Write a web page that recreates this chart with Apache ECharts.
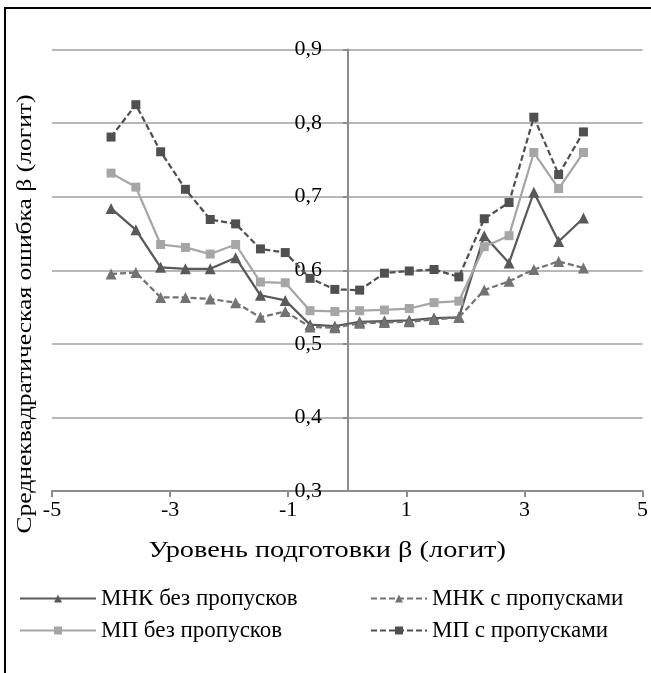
<!DOCTYPE html>
<html><head><meta charset="utf-8">
<script src="https://cdn.jsdelivr.net/npm/echarts@6/dist/echarts.min.js"></script>
<style>
html,body{margin:0;padding:0;background:#fff}
#frame{position:absolute;left:4px;top:7px;width:647px;height:666px;border-left:2px solid #000;border-top:2px solid #000;box-sizing:border-box}
#c{position:absolute;left:0;top:0;width:651px;height:673px}
</style></head><body>
<div id="frame"></div><div id="c"></div>
<script>
const beta = [-4.00, -3.58, -3.16, -2.74, -2.32, -1.89, -1.47, -1.05, -0.63, -0.21, 0.21, 0.63, 1.05, 1.47, 1.89, 2.32, 2.74, 3.16, 3.58, 4.00];
const mnkFull = [0.684, 0.655, 0.604, 0.602, 0.602, 0.617, 0.566, 0.559, 0.526, 0.524, 0.530, 0.531, 0.532, 0.535, 0.536, 0.647, 0.610, 0.706, 0.639, 0.671];
const mnkMiss = [0.595, 0.597, 0.563, 0.563, 0.561, 0.556, 0.536, 0.544, 0.523, 0.522, 0.528, 0.529, 0.530, 0.533, 0.536, 0.573, 0.585, 0.601, 0.612, 0.603];
const mpFull  = [0.732, 0.713, 0.635, 0.631, 0.622, 0.635, 0.584, 0.583, 0.545, 0.544, 0.545, 0.546, 0.548, 0.556, 0.558, 0.632, 0.647, 0.760, 0.711, 0.760];
const mpMiss  = [0.781, 0.825, 0.761, 0.710, 0.669, 0.663, 0.629, 0.624, 0.589, 0.574, 0.573, 0.596, 0.599, 0.601, 0.591, 0.670, 0.692, 0.808, 0.730, 0.788];
const names = ['МНК без пропусков', 'МНК с пропусками', 'МП без пропусков', 'МП с пропусками'];
const xTitle = 'Уровень подготовки β (логит)';
const yTitle = 'Среднеквадратическая ошибка β (логит)';

const FONT = '"Liberation Serif", "Times New Roman", serif';
const pairs = arr => beta.map((x, i) => [x, arr[i]]);

const chart = echarts.init(document.getElementById('c'), null, {renderer: 'canvas'});
function mk(name, data, color, dashed, symbol, size) {
  return {
    name, type: 'line', data: pairs(data), symbol, symbolSize: size,
    itemStyle: {color},
    lineStyle: {color, width: 2.25, type: dashed ? [6, 3] : 'solid'},
    showAllSymbol: true, animation: false
  };
}
chart.setOption({
  animation: false,
  grid: {left: 52, right: 7, top: 49.5, bottom: 182, containLabel: false},
  xAxis: {
    type: 'value', min: -5, max: 5, interval: 2,
    axisLine: {onZero: false, lineStyle: {color: '#8c8c8c', width: 2}},
    axisTick: {show: true, length: 6, lineStyle: {color: '#8c8c8c', width: 2}},
    axisLabel: {color: '#000', fontFamily: FONT, fontSize: 22, margin: 8},
    splitLine: {show: false}
  },
  yAxis: {
    type: 'value', min: 0.3, max: 0.9, interval: 0.1, offset: -296,
    axisLine: {show: true, onZero: false, lineStyle: {color: '#8c8c8c', width: 2}},
    axisTick: {show: true, length: 5, lineStyle: {color: '#8c8c8c', width: 2}},
    axisLabel: {color: '#000', fontFamily: FONT, fontSize: 22, margin: 26,
      formatter: v => v.toFixed(1).replace('.', ',')},
    splitLine: {show: true, lineStyle: {color: '#a0a0a0', width: 1.5}}
  },
  legend: [
    {data: [names[0], names[2]], orient: 'vertical', left: 19, top: 587, padding: 0, itemWidth: 76, itemHeight: 10, itemGap: 9,
     textStyle: {fontFamily: FONT, fontSize: 23, color: '#000'}},
    {data: [names[1], names[3]], orient: 'vertical', left: 370, top: 587, padding: 0, itemWidth: 56, itemHeight: 10, itemGap: 9,
     textStyle: {fontFamily: FONT, fontSize: 23, color: '#000'}}
  ],
  graphic: [
    {type: 'text', x: 327, y: 551, scaleX: 1.18, style: {text: xTitle, font: '24px ' + FONT, fill: '#000', textAlign: 'center', textVerticalAlign: 'middle'}},
    {type: 'text', x: 25, y: 314, rotation: Math.PI / 2, scaleX: 1.16, style: {text: yTitle, font: '22px ' + FONT, fill: '#000', textAlign: 'center', textVerticalAlign: 'middle'}}
  ],
  series: [
    mk(names[0], mnkFull, '#595959', false, 'triangle', 11),
    mk(names[1], mnkMiss, '#737373', true, 'triangle', 11),
    mk(names[2], mpFull, '#a6a6a6', false, 'rect', 9),
    mk(names[3], mpMiss, '#505050', true, 'rect', 9)
  ]
});
</script></body></html>
